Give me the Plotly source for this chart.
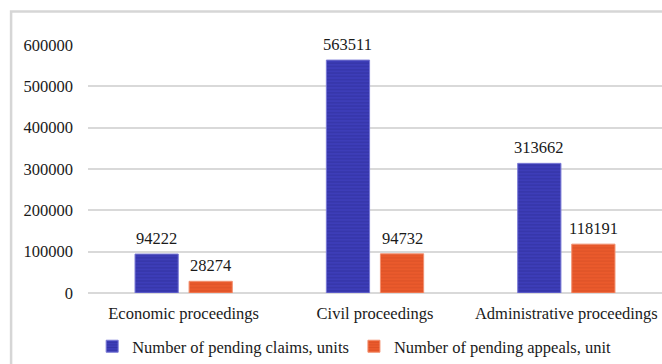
import plotly.graph_objects as go

categories = ["Economic proceedings", "Civil proceedings", "Administrative proceedings"]
claims = [94222, 563511, 313662]
appeals = [28274, 94732, 118191]
series_names = ["Number of pending claims, units", "Number of pending appeals, unit"]
y_ticks = [0, 100000, 200000, 300000, 400000, 500000, 600000]

BARGAP = 0.435
BARGROUPGAP = 0.2
FONT = "'Times New Roman', 'Liberation Serif', Tinos, 'DejaVu Serif', serif"
TXT = "#1a1a1a"
GRID = "#d9d9d9"
FS = 16.5

fig = go.Figure()
fig.add_trace(go.Bar(
    x=categories, y=claims, name=series_names[0],
    marker=dict(color="#3a3ab4",
                line=dict(color="#7a7ad6", width=1),
                pattern=dict(shape="-", size=3.3, solidity=0.35,
                             fgcolor="#2a2a92", bgcolor="#3d3db8")),
))
fig.add_trace(go.Bar(
    x=categories, y=appeals, name=series_names[1],
    marker=dict(color="#e8582b",
                line=dict(color="#f29070", width=1),
                pattern=dict(shape="-", size=3.3, solidity=0.35,
                             fgcolor="#d04820", bgcolor="#ea5a2c")),
))

# data labels
off = (1 - BARGAP) / 4
annotations = []
for i, (c, a) in enumerate(zip(claims, appeals)):
    for dx, v in ((-off, c), (off, a)):
        annotations.append(dict(
            x=i + dx, y=v, xref="x", yref="y", text=str(v), showarrow=False,
            yanchor="bottom", yshift=4,
            font=dict(family=FONT, size=FS, color=TXT)))

fig.update_layout(
    width=662, height=364,
    margin=dict(l=88, r=0, t=45, b=71),
    paper_bgcolor="white", plot_bgcolor="white",
    barmode="group", bargap=BARGAP, bargroupgap=BARGROUPGAP,
    font=dict(family=FONT, size=FS, color=TXT),
    showlegend=True,
    legend=dict(orientation="h", xref="container", x=0.535, xanchor="center",
                yref="container", y=0.0, yanchor="bottom",
                font=dict(family=FONT, size=FS, color=TXT),
                itemwidth=30, tracegroupgap=0),
    annotations=annotations,
    shapes=[dict(type="rect", xref="paper", yref="paper",
                 x0=-0.134, x1=1.05, y0=-0.4, y1=1.135,
                 line=dict(color="#d6d6d6", width=2.5), fillcolor="rgba(0,0,0,0)",
                 layer="below")],
)
fig.update_xaxes(type="category", showgrid=False, showline=False, ticks="",
                 ticklabelstandoff=8,
                 tickfont=dict(family=FONT, size=FS, color=TXT))
fig.update_yaxes(range=[0, 600000], tickvals=y_ticks,
                 ticktext=[str(t) for t in y_ticks],
                 showgrid=True, gridcolor=GRID, gridwidth=1.5,
                 zeroline=True, zerolinecolor=GRID, zerolinewidth=1.5,
                 showline=False, ticks="", ticklabelstandoff=14,
                 tickfont=dict(family=FONT, size=FS, color=TXT))

fig.write_html("out.html")
